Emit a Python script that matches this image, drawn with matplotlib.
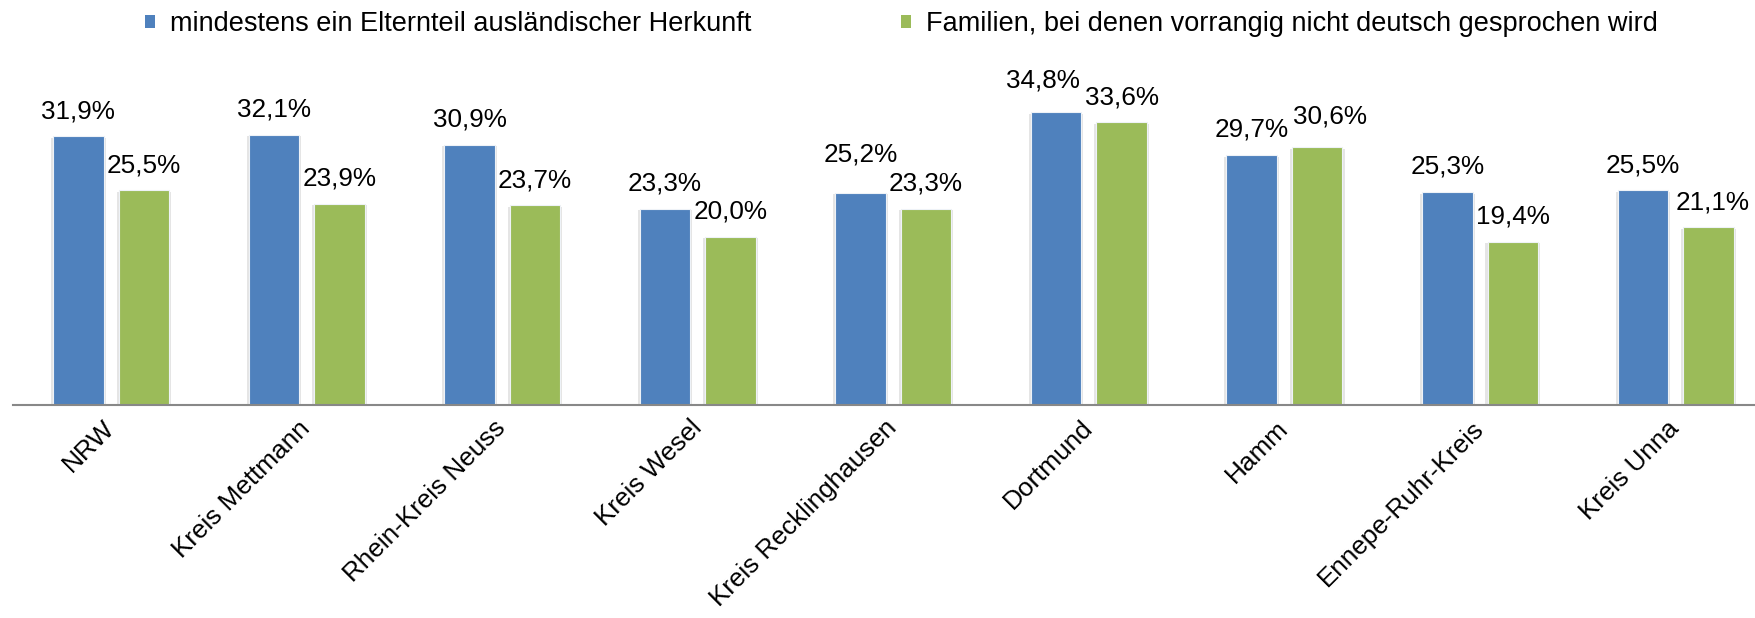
import numpy as np
import matplotlib
matplotlib.use("Agg")
import matplotlib.pyplot as plt
import matplotlib.patheffects as pe
from matplotlib.patches import Patch

plt.rcParams["font.family"] = ["Liberation Sans", "DejaVu Sans"]

regions = ["NRW", "Kreis Mettmann", "Rhein-Kreis Neuss", "Kreis Wesel",
           "Kreis Recklinghausen", "Dortmund", "Hamm", "Ennepe-Ruhr-Kreis",
           "Kreis Unna"]
auslaendisch = [31.9, 32.1, 30.9, 23.3, 25.2, 34.8, 29.7, 25.3, 25.5]
nicht_deutsch = [25.5, 23.9, 23.7, 20.0, 23.3, 33.6, 30.6, 19.4, 21.1]
series_names = ["mindestens ein Elternteil ausländischer Herkunft",
                "Familien, bei denen vorrangig nicht deutsch gesprochen wird"]

BLUE = "#4F81BD"
GREEN = "#9BBB59"
PX = 0.72  # points per pixel at dpi 100

# hand-moved data labels in the original (series, region) -> (dx, dy) pixels
label_nudge = {(0, 4): (0, 13), (0, 5): (-13, 6), (1, 6): (13, 6), (1, 8): (4, 0)}


def pct(v):
    return f"{v:.1f}".replace(".", ",") + "%"


fig = plt.figure(figsize=(17.55, 6.18), dpi=100)
ax = fig.add_axes([13.3 / 1755, 213 / 618, 1 - 13.3 / 1755, 320 / 618])

x = np.arange(len(regions))
width = 0.258
offset = 0.1675
shadow = [pe.SimplePatchShadow(offset=(-1.5, -1.2), shadow_rgbFace="black", alpha=0.10),
          pe.SimplePatchShadow(offset=(1.5, -1.2), shadow_rgbFace="black", alpha=0.10),
          pe.Normal()]

for s, (vals, color, sign) in enumerate([(auslaendisch, BLUE, -1), (nicht_deutsch, GREEN, 1)]):
    bars = ax.bar(x + sign * offset, vals, width, color=color, edgecolor="#EEF2F7",
                  linewidth=0.8, label=series_names[s], zorder=2)
    for b in bars:
        b.set_path_effects(shadow)
    for i, v in enumerate(vals):
        dx, dy = label_nudge.get((s, i), (0, 0))
        ax.annotate(pct(v), (x[i] + sign * offset, v),
                    xytext=(dx * PX, (18 + dy) * PX), textcoords="offset points",
                    ha="center", va="baseline", fontsize=18.8, color="black")

ax.set_xlim(-0.5, 8.406)
ax.set_ylim(0, 38)
for side in ["left", "right", "top"]:
    ax.spines[side].set_visible(False)
ax.spines["bottom"].set_color("#888888")
ax.spines["bottom"].set_linewidth(1.5)
ax.spines["bottom"].set_zorder(3)
ax.set_yticks([])
ax.set_xticks(x)
ax.set_xticklabels(regions, fontsize=18.8)
ax.tick_params(axis="x", length=0, pad=14)
plt.setp(ax.get_xticklabels(), rotation=45, ha="right", va="center",
         rotation_mode="anchor")

# two legend entries, each placed where Excel put it
for color, name, left in [(BLUE, series_names[0], 145), (GREEN, series_names[1], 901)]:
    fig.legend([Patch(facecolor=color, edgecolor="none")], [name], loc="center left",
               bbox_to_anchor=(left / 1755, 1 - 24 / 618), frameon=False,
               fontsize=19.5, handlelength=0.36, handleheight=0.36, handletextpad=0.55,
               borderpad=0, borderaxespad=0)

fig.savefig("out.png", dpi=100)
